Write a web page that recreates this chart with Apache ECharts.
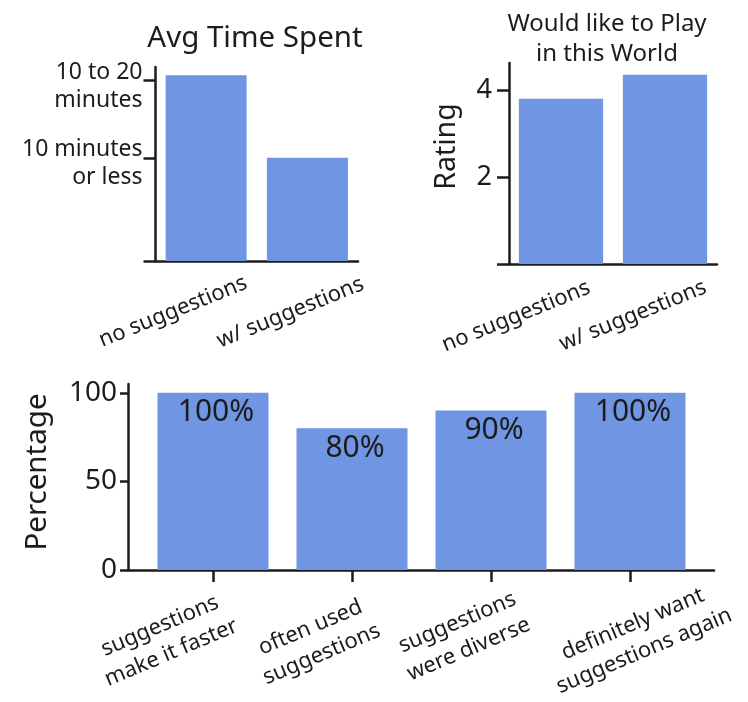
<!DOCTYPE html>
<html>
<head>
<meta charset="utf-8">
<script src="https://cdn.jsdelivr.net/npm/echarts@6.0.0/dist/echarts.min.js"></script>
<style>
html, body { margin: 0; padding: 0; background: #fff; }
#chart { width: 748px; height: 702px; }
</style>
</head>
<body>
<div id="chart"></div>
<script>
// survey results
const groups = ['no suggestions', 'w/ suggestions'];
const timeValues = [18, 10];
const timeTicks = [10, 17.5];
const timeTickLabels = ['10 minutes\nor less', '10 to 20\nminutes'];
const ratingValues = [3.8, 4.35];
const ratingTicks = [2, 4];
const statements = ['suggestions\nmake it faster', 'often used\nsuggestions', 'suggestions\nwere diverse', 'definitely want\nsuggestions again'];
const percentValues = [100, 80, 90, 100];
const percentTicks = [0, 50, 100];

const ink = '#1c1c1c';
const barColor = '#6f95e3';
const font = '"Noto Sans", sans-serif';
const line = { color: ink, width: 2.5 };

// per-label nudges [along text, across text] for the slanted category labels
const timeLabelShift = [[-35.7, 0.2], [-21.2, 7.1]];
const ratingLabelShift = [[-48.5, 0], [-36.3, 4.4]];
const percentLabelShift = [[-51.7, 0.3], [-41.7, 6.2], [-32.4, 4.7], [0.6, 20.4]];

function slantRich(shifts, base) {
  const rich = {};
  shifts.forEach(([a, b], i) => {
    rich['s' + i] = { fontSize: 1, lineHeight: Math.max(0.5, 2 * b) };
    rich['t' + i] = Object.assign({
      align: 'center',
      padding: a < 0 ? [0, -2 * a, 0, 0] : [0, 0, 0, 2 * a]
    }, base);
  });
  return rich;
}
function slantText(text, i) {
  return '{s' + i + '| }\n' + text.split('\n').map(l => '{t' + i + '|' + l + '}').join('\n');
}

const chart = echarts.init(document.getElementById('chart'));

chart.setOption({
  animation: false,
  graphic: [
    { type: 'text', x: 255, y: 38.5, style: { text: 'Avg Time Spent', fontSize: 29.5, fontFamily: font, fill: ink, align: 'center', verticalAlign: 'middle' } },
    { type: 'text', x: 607, y: 39, style: { text: 'Would like to Play\nin this World', fontSize: 24, lineHeight: 30, fontFamily: font, fill: ink, align: 'center', verticalAlign: 'middle' } }
  ],
  grid: [
    { left: 155.5, right: 390, top: 67, bottom: 441, outerBoundsMode: 'none' },
    { left: 509, right: 31, top: 63, bottom: 438, outerBoundsMode: 'none' },
    // bottom panel: outer frame for the axes, inner band area for the bars
    { left: 128, right: 34, top: 384, bottom: 132, outerBoundsMode: 'none' },
    { left: 143.5, right: 48.5, top: 384, bottom: 132, outerBoundsMode: 'none' }
  ],
  xAxis: [
    {
      type: 'category', gridIndex: 0, data: groups,
      axisLine: { lineStyle: line },
      axisTick: { alignWithLabel: true, length: 12, lineStyle: line },
      axisLabel: {
        interval: 0, rotate: 22, align: 'center', verticalAlign: 'middle', margin: 37,
        formatter: (v, i) => slantText(v, i),
        rich: slantRich(timeLabelShift, { fontSize: 22, lineHeight: 26, fontFamily: font, color: ink })
      }
    },
    {
      type: 'category', gridIndex: 1, data: groups,
      axisLine: { lineStyle: line },
      axisTick: { alignWithLabel: true, length: 12, lineStyle: line },
      axisLabel: {
        interval: 0, rotate: 22, align: 'center', verticalAlign: 'middle', margin: 34,
        formatter: (v, i) => slantText(v, i),
        rich: slantRich(ratingLabelShift, { fontSize: 22, lineHeight: 26, fontFamily: font, color: ink })
      }
    },
    {
      type: 'value', gridIndex: 2, min: 0, max: 1,
      splitLine: { show: false },
      axisLine: { lineStyle: line },
      axisTick: { show: false },
      axisLabel: { show: false }
    },
    {
      type: 'category', gridIndex: 3, data: statements,
      axisLine: { show: true, lineStyle: { color: 'rgba(0,0,0,0)', width: 0 } },
      axisTick: { show: true, alignWithLabel: true, length: 12, lineStyle: line },
      axisLabel: {
        interval: 0, rotate: 23, align: 'center', verticalAlign: 'middle', margin: 49,
        formatter: (v, i) => slantText(v, i),
        rich: slantRich(percentLabelShift, { fontSize: 22, lineHeight: 29, fontFamily: font, color: ink })
      }
    }
  ],
  yAxis: [
    {
      type: 'value', gridIndex: 0, min: 0, max: 18.8,
      splitLine: { show: false },
      axisLine: { show: true, lineStyle: line },
      axisTick: { show: true, length: 12, lineStyle: line, customValues: [0].concat(timeTicks) },
      axisLabel: {
        customValues: timeTicks, margin: 13, align: 'right',
        formatter: v => '{s| }\n' + timeTickLabels[timeTicks.indexOf(v)].split('\n').map(l => '{l|' + l + '}').join('\n'),
        rich: {
          s: { fontSize: 1, lineHeight: 12 },
          l: { align: 'right', fontSize: 23, lineHeight: 28, fontFamily: font, color: ink }
        }
      }
    },
    {
      type: 'value', gridIndex: 1, min: 0, max: 4.62,
      name: 'Rating', nameLocation: 'middle', nameGap: 47,
      nameTextStyle: { fontSize: 28.5, lineHeight: 30, fontFamily: font, color: ink, padding: [0, 0, 0, 34] },
      splitLine: { show: false },
      axisLine: { show: true, lineStyle: line },
      axisTick: { show: true, length: 12, lineStyle: line, customValues: [0].concat(ratingTicks) },
      axisLabel: { customValues: ratingTicks, margin: 17, fontSize: 27, fontFamily: font, color: ink }
    },
    {
      type: 'value', gridIndex: 2, min: 0, max: 105,
      name: 'Percentage', nameLocation: 'middle', nameGap: 74,
      nameTextStyle: { fontSize: 29.5, lineHeight: 32, fontFamily: font, color: ink, padding: [0, 0, 0, 10] },
      splitLine: { show: false },
      axisLine: { show: true, onZero: false, lineStyle: line },
      axisTick: { show: true, length: 8, lineStyle: line, customValues: percentTicks },
      axisLabel: { customValues: percentTicks, margin: 11, fontSize: 28, fontFamily: font, color: ink }
    },
    {
      type: 'value', gridIndex: 3, min: 0, max: 105,
      axisLine: { show: false }, axisTick: { show: false }, axisLabel: { show: false }, splitLine: { show: false }
    }
  ],
  series: [
    {
      type: 'bar', xAxisIndex: 0, yAxisIndex: 0, data: timeValues,
      barCategoryGap: '20%', itemStyle: { color: barColor }
    },
    {
      type: 'bar', xAxisIndex: 1, yAxisIndex: 1, data: ratingValues,
      barCategoryGap: '19%', itemStyle: { color: barColor }
    },
    {
      type: 'bar', xAxisIndex: 3, yAxisIndex: 3, data: percentValues,
      barWidth: 111, itemStyle: { color: barColor },
      label: {
        show: true, position: 'insideTop', distance: 5, offset: [3, 0],
        fontSize: 30, lineHeight: 30, fontFamily: font, color: ink,
        formatter: '{c}%'
      }
    }
  ]
});
</script>
</body>
</html>
